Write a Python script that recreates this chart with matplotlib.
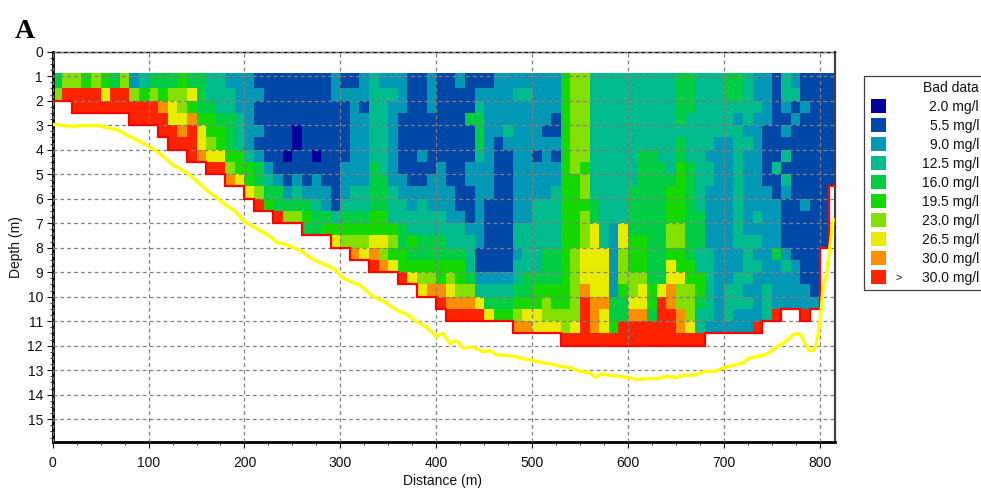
import numpy as np
import matplotlib
matplotlib.use('Agg')
import matplotlib.pyplot as plt
from matplotlib.colors import ListedColormap, BoundaryNorm
from matplotlib.patches import Rectangle

plt.rcParams['font.family'] = ['Liberation Sans', 'DejaVu Sans']

# legend classes
class_labels = ['2.0 mg/l', '5.5 mg/l', '9.0 mg/l', '12.5 mg/l', '16.0 mg/l',
                '19.5 mg/l', '23.0 mg/l', '26.5 mg/l', '30.0 mg/l', '30.0 mg/l']
class_colors = ['#00009c', '#0048a8', '#0098b4', '#00bc8c', '#00cc44',
                '#14d800', '#84e000', '#e8ec00', '#f89000', '#ff2400']

# one string per 10 m column, one digit per depth cell (class index), top to bottom
columns = [
    "46", "69", "699", "599", "699", "579", "499", "699", "2699", "3599",
    "4699", "45899", "467799", "566789", "4758999", "4445778", "33455679",
    "33345579", "233444568", "222333557", "2222223557", "12112124469",
    "11111112345", "111111112449", "111111011246", "111100112346",
    "1111111112454", "1111110122344", "1111111112245", "22111111111357",
    "12111112223456", "122222222334568", "221222222334567", "3333333444455789",
    "2333333344455768", "2322222223335657", "22211111223344559",
    "11111111122335457", "111111211233344567", "222111112223344568",
    "1111111222233445589", "11111111122233456789", "21111111111233455689",
    "11141112211123334689", "12344432222222112379", "12222222221111112347",
    "22222111111111112345", "22223211111111112345", "232222222222332334568",
    "232222222222333344578", "222222122233333345577", "222212222233334445667",
    "222112122333334445567", "5555555555555555555669", "6666666655555566666679",
    "6666666566566677789999", "3333333333447777778889", "3333333333333377778779",
    "3333333333332222224459", "3333333333337766654499", "3333333334444555667899",
    "3333334444444555677899", "3333334444444444455499", "3333333444444444479999",
    "3333333345556657788999", "4444344555556655766889", "4443333444444445566679",
    "3333333333344433554339", "333333233222223333332", "333332222222222222222",
    "443332222222222223332", "443233333333332233322", "333323222222233332322",
    "223222222223232322229", "22221111122222222333", "11111113112222422229",
    "3321213132111123222", "2312111111111112222", "11211111112111111229",
    "1111111111111111112", "11111111111111", "111111111",
]

depth_edges = [0.85, 1.5, 2, 2.5, 3, 3.5, 4, 4.5, 5, 5.5, 6, 6.5, 7, 7.5, 8, 8.5,
               9, 9.5, 10, 10.5, 11, 11.5, 12]

# bottom profile, yellow line
bottom_x = [0, 8, 16, 24, 30, 36, 44, 52, 60, 68, 76, 84, 92, 101, 108, 116, 125, 134,
            143, 152, 162, 171, 180, 190, 200, 210, 220, 227, 234, 242, 251, 260, 268,
            278, 289, 296, 303, 312, 320, 327, 334, 346, 358, 368, 379, 390, 400, 407,
            414, 421, 428, 438, 449, 456, 463, 473, 483, 492, 500, 510, 520, 530, 540,
            550, 560, 566, 572, 580, 590, 600, 610, 620, 630, 640, 650, 660, 670, 680,
            690, 700, 710, 720, 727, 734, 741, 746, 751, 757, 762, 767, 772, 777, 781,
            784, 787, 789, 793, 796, 798, 800, 802, 803, 805, 807, 810, 812, 814]
bottom_d = [2.97, 3.0, 3.04, 3.06, 3.0, 3.03, 3.0, 3.05, 3.13, 3.2, 3.38, 3.53, 3.7, 3.88,
            4.05, 4.3, 4.62, 4.8, 5.03, 5.35, 5.7, 5.97, 6.25, 6.5, 6.94, 7.15, 7.4, 7.55,
            7.8, 7.85, 8.0, 8.15, 8.4, 8.6, 8.77, 8.95, 9.25, 9.4, 9.52, 9.75, 10.0, 10.2,
            10.54, 10.7, 11.0, 11.25, 11.63, 11.5, 11.9, 11.8, 12.1, 12.05, 12.25, 12.2,
            12.38, 12.4, 12.45, 12.55, 12.6, 12.7, 12.75, 12.85, 12.9, 13.05, 13.1, 13.3,
            13.15, 13.2, 13.25, 13.3, 13.38, 13.35, 13.35, 13.25, 13.3, 13.2, 13.2, 13.05,
            13.05, 12.9, 12.8, 12.7, 12.5, 12.45, 12.4, 12.3, 12.18, 12.0, 11.9, 11.75,
            11.56, 11.5, 11.6, 11.9, 12.05, 12.2, 12.2, 12.0, 11.6, 11.1, 10.4, 9.85, 9.4,
            9.04, 8.2, 7.55, 6.87]

x_max = 816
col_step = 10

n_cols = len(columns)
n_rows = len(depth_edges) - 1
grid = np.full((n_rows, n_cols), np.nan)
for i, col in enumerate(columns):
    for j, ch in enumerate(col):
        grid[j, i] = int(ch)
x_edges = np.minimum(np.arange(n_cols + 1) * col_step, x_max)

fig = plt.figure(figsize=(9.81, 4.88), dpi=100)
W, H = 981.0, 488.0
ax = fig.add_axes([52.7 / W, 1 - 441.7 / H, (835 - 52.7) / W, (441.7 - 51.7) / H])

cmap = ListedColormap(class_colors)
norm = BoundaryNorm(np.arange(-0.5, 10.5), cmap.N)
ax.pcolormesh(x_edges, depth_edges, np.ma.masked_invalid(grid), cmap=cmap, norm=norm,
              zorder=1, linewidth=0, rasterized=True)

# red outline along the underside of the data
line_x, line_y = [], []
for i, col in enumerate(columns):
    d = depth_edges[len(col)]
    line_x += [x_edges[i], x_edges[i + 1]]
    line_y += [d, d]
ax.plot(line_x, line_y, color='#ff0000', lw=1.6, solid_joinstyle='miter', zorder=3)

ax.plot(bottom_x, bottom_d, color='#ffff00', lw=2.4, zorder=4)

ax.set_xlim(0, x_max)
ax.set_ylim(15.92, 0)
ax.set_xticks(range(0, 801, 100))
ax.set_xticks(range(0, 801, 25), minor=True)
ax.set_yticks(range(0, 16))
ax.set_yticks(np.arange(0, 16, 0.25), minor=True)
ax.tick_params(axis='both', which='major', length=4, width=0.8, labelsize=10, colors='#111111')
ax.tick_params(axis='x', which='major', pad=6)
ax.tick_params(axis='y', which='major', pad=3)
ax.tick_params(axis='both', which='minor', length=2, width=0.7, color='#333333')
ax.grid(True, which='major', color='#808080', linestyle=(0, (3, 2.5)), linewidth=0.9, zorder=5)
ax.set_axisbelow(False)
ax.set_xlabel('Distance (m)', fontsize=10, color='#111111')
ax.xaxis.set_label_coords(0.498, -0.083)
ax.set_ylabel('Depth (m)', fontsize=10, color='#111111')
ax.yaxis.set_label_coords(-0.038, 0.5)

ax.spines['left'].set_linewidth(2.0)
ax.spines['bottom'].set_linewidth(2.0)
ax.spines['top'].set_linewidth(1.0)
ax.spines['right'].set_linewidth(1.6)
ax.spines['right'].set_color('#404040')

fig.text(15 / W, 1 - 38 / H, 'A', family=['Liberation Serif'], fontweight='bold', fontsize=20, color='black')

# legend drawn in pixel coordinates
leg = fig.add_axes([0, 0, 1, 1])
leg.set_xlim(0, W)
leg.set_ylim(H, 0)
leg.axis('off')
leg.patch.set_alpha(0)
leg.add_patch(Rectangle((863.5, 75.5), 130, 214, fill=False, edgecolor='#404040', lw=0.9, clip_on=True))
leg.text(979, 88, 'Bad data', ha='right', va='center', fontsize=10, color='#111111')
for i, (lab, c) in enumerate(zip(class_labels, class_colors)):
    yc = 106 + 19 * i
    leg.add_patch(Rectangle((871, yc - 7), 15, 14, facecolor=c, edgecolor='none'))
    leg.text(979, yc + 1, lab, ha='right', va='center', fontsize=10, color='#111111')
leg.text(895, 278, '>', ha='left', va='center', fontsize=8, color='#111111')

fig.savefig('out.png', dpi=100)
